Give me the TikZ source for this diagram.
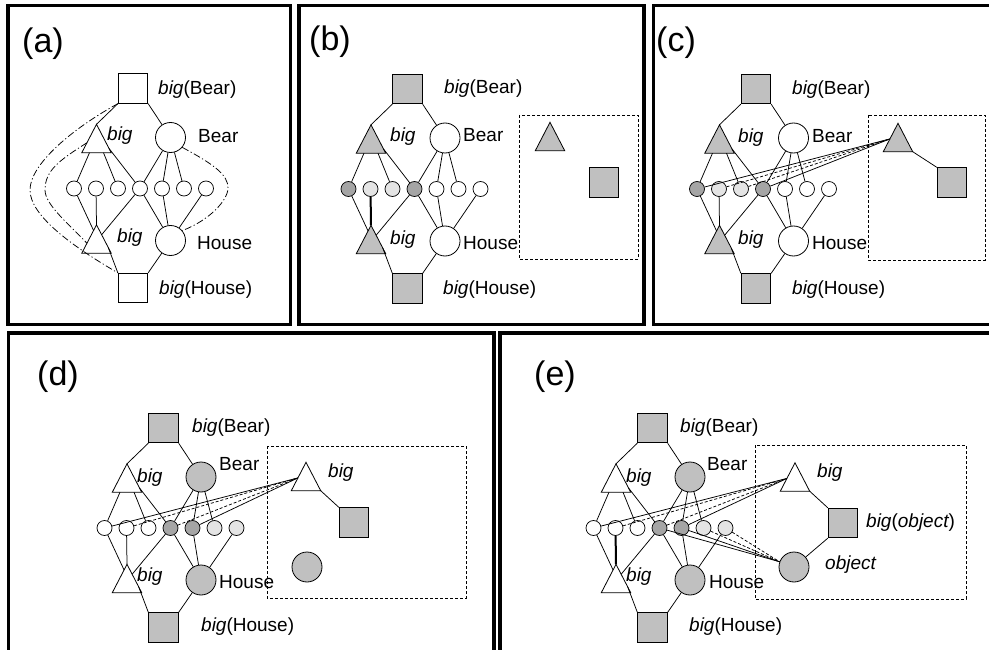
\documentclass[tikz,border=0pt]{standalone}
\usepackage{fontspec}
\setmainfont{Liberation Sans}
\usetikzlibrary{calc}
\definecolor{gfill}{RGB}{192,192,192}
\definecolor{dk}{RGB}{165,165,165}
\definecolor{lt}{RGB}{228,228,228}
\tikzset{
  sq/.style={draw, rectangle, minimum size=29.5pt, inner sep=0pt, line width=0.8pt},
  bigc/.style={draw, circle, minimum size=30pt, inner sep=0pt, line width=0.8pt},
  smc/.style={draw, circle, minimum size=15pt, inner sep=0pt, line width=0.7pt},
  tribox/.style={rectangle, minimum width=29pt, minimum height=28pt, inner sep=0pt},
  triline/.style={draw, line width=0.8pt},
  lbl/.style={anchor=west, inner sep=0pt, font=\fontsize{19}{22}\selectfont},
  tagtext/.style={inner sep=0pt, font=\fontsize{34}{40}\selectfont},
  panelframe/.style={line width=3.8pt},
  dbox/.style={dash pattern=on 3pt off 2pt, line width=0.7pt},
  conn/.style={line width=0.75pt},
  dconn/.style={line width=0.75pt, dash pattern=on 3pt off 2pt},
  dd/.style={line width=0.75pt, dash pattern=on 7pt off 2.5pt on 1.2pt off 2.5pt},
  sf/.style={fill=white}, cf/.style={fill=white}, tf/.style={fill=white},
  f1/.style={fill=white}, f2/.style={fill=white}, f3/.style={fill=white},
  f4/.style={fill=white}, f5/.style={fill=white}, f6/.style={fill=white},
  f7/.style={fill=white}, c2l/.style={}
}
\newcommand\net[3]{%
\begin{scope}[shift={(#2,#3)}]
  \node[sq, sf] (#1tsq) at (0,0) {};
  \node[sq, sf] (#1bsq) at (0,199.5) {};
  \node[tribox] (#1ut) at (-36.5,50) {};
  \node[tribox] (#1lt) at (-36.5,150.5) {};
  \node[bigc, cf] (#1bear) at (37.5,49) {};
  \node[bigc, cf] (#1house) at (37.5,152) {};
  \node[smc, f1] (#1c1) at (-59,100) {};
  \node[smc, f2] (#1c2) at (-37,100) {};
  \node[smc, f3] (#1c3) at (-15,100) {};
  \node[smc, f4] (#1c4) at (7,100) {};
  \node[smc, f5] (#1c5) at (29,100) {};
  \node[smc, f6] (#1c6) at (51,100) {};
  \node[smc, f7] (#1c7) at (73,100) {};
  \path[triline, tf] (#1ut.north) -- (#1ut.south east) -- (#1ut.south west) -- cycle;
  \path[triline, tf] (#1lt.north) -- (#1lt.south east) -- (#1lt.south west) -- cycle;
  \draw[conn] (#1tsq.south west) -- (#1ut.north);
  \draw[conn] (#1tsq.south east) -- (#1bear);
  \draw[conn] (#1bsq.north west) -- ($(#1lt.north)!0.8!(#1lt.south east)$);
  \draw[conn] (#1bsq.north east) -- (#1house);
  \draw[conn] ([xshift=-7pt]#1ut.south) -- (#1c1);
  \draw[conn] ([xshift=7pt]#1ut.south) -- (#1c3);
  \draw[conn] ($(#1ut.north)!0.85!(#1ut.south east)$) -- (#1c4);
  \draw[conn] (#1bear) -- (#1c4);
  \draw[conn] (#1bear) -- (#1c5);
  \draw[conn] (#1bear) -- (#1c6);
  \draw[conn] (#1c1) -- ($(#1lt.north)!0.2!(#1lt.south west)$);
  \draw[conn, c2l] (#1c2) -- (#1lt.north);
  \draw[conn] (#1c4) -- ($(#1lt.north)!0.35!(#1lt.south east)$);
  \draw[conn] (#1c4) -- (#1house);
  \draw[conn] (#1c5) -- (#1house);
  \draw[conn] (#1c7) -- (#1house);
\end{scope}}
\begin{document}
\begin{tikzpicture}[x=1pt, y=-1pt]
\useasboundingbox (0,0) rectangle (989,650);
\clip (0,0) rectangle (989,650);
\fill[white] (0,0) rectangle (989,650);

% frames
\draw[panelframe] (8,5.5) rectangle (290.5,324.5);
\draw[panelframe] (299,5.5) rectangle (644,324.5);
\draw[panelframe] (653.5,5.5) rectangle (1000,324.5);
\draw[panelframe] (8.5,333) rectangle (494,700);
\draw[panelframe] (500,333) rectangle (1000,700);

% panel tags
\node[tagtext] (ta) at (43,44) {(a)};
\node[tagtext] (tb) at (330,42) {(b)};
\node[tagtext] (tc) at (676,43) {(c)};
\node[tagtext] (td) at (58,377) {(d)};
\node[tagtext] (te) at (555,377) {(e)};

% ---------- (a)
\net{a}{133}{88.5}
\draw[dd] (atsq.south west) .. controls (70,130) and (30,165) .. (30,190)
          .. controls (30,215) and (70,245) .. (absq.north west);
\draw[dd] ($(aut.north)!0.65!(aut.south west)$) .. controls (60,160) and (45,170) .. (45,190)
          .. controls (45,205) and (70,225) .. ($(alt.north)!0.65!(alt.south west)$);
\draw[dd] (abear.-40) .. controls (215,165) and (228,175) .. (228,188)
          .. controls (228,200) and (210,220) .. (ahouse.40);
\node[lbl] (la1) at (158,90) {\itshape big\upshape(Bear)};
\node[lbl] (la2) at (107,136) {\itshape big};
\node[lbl] (la3) at (198,136) {Bear};
\node[lbl] (la4) at (117,238) {\itshape big};
\node[lbl] (la5) at (197,243) {House};
\node[lbl] (la6) at (159,290) {\itshape big\upshape(House)};

% ---------- (b)
\begin{scope}[sf/.style={fill=gfill}, tf/.style={fill=gfill},
  f1/.style={fill=dk}, f2/.style={fill=lt}, f3/.style={fill=lt}, f4/.style={fill=dk},
  c2l/.style={line width=2pt}]
\net{b}{407.5}{89}
\end{scope}
\draw[dbox] (519,115) rectangle (638,259);
\node[tribox] (bt) at (550,136.5) {};
\path[triline, fill=gfill] (bt.north) -- (bt.south east) -- (bt.south west) -- cycle;
\node[sq, fill=gfill] (bs) at (604,182.5) {};
\node[lbl] (lb1) at (444,89) {\itshape big\upshape(Bear)};
\node[lbl] (lb2) at (390,137) {\itshape big};
\node[lbl] (lb3) at (463,135) {Bear};
\node[lbl] (lb4) at (390,240) {\itshape big};
\node[lbl] (lb5) at (463,243) {House};
\node[lbl] (lb6) at (443,290) {\itshape big\upshape(House)};

% ---------- (c)
\begin{scope}[sf/.style={fill=gfill}, tf/.style={fill=gfill},
  f1/.style={fill=dk}, f2/.style={fill=lt}, f3/.style={fill=lt}, f4/.style={fill=dk}]
\net{c}{756}{89}
\end{scope}
\draw[dbox] (868,115) rectangle (985,260);
\node[tribox] (ct) at (898,137.5) {};
\path[triline, fill=gfill] (ct.north) -- (ct.south east) -- (ct.south west) -- cycle;
\node[sq, fill=gfill] (cs) at (952,182.5) {};
\draw[conn] (ct.south east) -- (cs.north west);
\coordinate (ck) at ($(ct.north)!0.55!(ct.south west)$);
\draw[conn] (cc1) -- (ck);
\draw[dconn] (cc2) -- (ck);
\draw[dconn] (cc3) -- (ck);
\draw[conn] (cc4) -- (ck);
\node[lbl] (lc1) at (792,90) {\itshape big\upshape(Bear)};
\node[lbl] (lc2) at (738,138) {\itshape big};
\node[lbl] (lc3) at (812,136) {Bear};
\node[lbl] (lc4) at (738,240) {\itshape big};
\node[lbl] (lc5) at (812,243) {House};
\node[lbl] (lc6) at (792,290) {\itshape big\upshape(House)};

% ---------- (d)
\begin{scope}[sf/.style={fill=gfill}, cf/.style={fill=gfill},
  f4/.style={fill=dk}, f5/.style={fill=dk}, f6/.style={fill=lt}, f7/.style={fill=lt}]
\net{d}{163.5}{428}
\end{scope}
\draw[dbox] (267,446) rectangle (466,598);
\node[tribox] (dt) at (306,476.5) {};
\path[triline, fill=white] (dt.north) -- (dt.south east) -- (dt.south west) -- cycle;
\node[sq, fill=gfill] (ds) at (354,522.5) {};
\node[bigc, fill=gfill] (dob) at (307,567) {};
\draw[conn] (dt.south east) -- (ds.north west);
\coordinate (dk1) at ($(dt.north)!0.55!(dt.south west)$);
\draw[conn] (dc1) -- (dk1);
\draw[dconn] (dc2) -- (dk1);
\draw[dconn] (dc4) -- (dk1);
\draw[conn] (dc5) -- (dk1);
\node[lbl] (ld1) at (192,428) {\itshape big\upshape(Bear)};
\node[lbl] (ld2) at (137,478) {\itshape big};
\node[lbl] (ld3) at (219,464) {Bear};
\node[lbl] (ld4) at (137,577) {\itshape big};
\node[lbl] (ld5) at (219,582) {House};
\node[lbl] (ld6) at (201,627) {\itshape big\upshape(House)};
\node[lbl] (ld7) at (328,473) {\itshape big};

% ---------- (e)
\begin{scope}[sf/.style={fill=gfill}, cf/.style={fill=gfill},
  f4/.style={fill=dk}, f5/.style={fill=dk}, f6/.style={fill=lt}, f7/.style={fill=lt},
  c2l/.style={line width=2pt}]
\net{e}{652.5}{428}
\end{scope}
\draw[dbox] (755,445) rectangle (966,599);
\node[tribox] (et) at (795,477) {};
\path[triline, fill=white] (et.north) -- (et.south east) -- (et.south west) -- cycle;
\node[sq, fill=gfill] (es) at (843,523) {};
\node[bigc, fill=gfill] (eob) at (794,567) {};
\draw[conn] (et.south east) -- (es.north west);
\draw[conn] (es.south west) -- (eob);
\coordinate (ek1) at ($(et.north)!0.55!(et.south west)$);
\coordinate (ek2) at (eob.160);
\draw[conn] (ec1) -- (ek1);
\draw[dconn] (ec2) -- (ek1);
\draw[dconn] (ec4) -- (ek1);
\draw[conn] (ec5) -- (ek1);
\draw[conn] (ec4) -- (ek2);
\draw[conn] (ec5) -- (ek2);
\draw[dconn] (ec6) -- (ek2);
\draw[dconn] (ec7) -- (ek2);
\node[lbl] (le1) at (680,428) {\itshape big\upshape(Bear)};
\node[lbl] (le2) at (626,478) {\itshape big};
\node[lbl] (le3) at (707,464) {Bear};
\node[lbl] (le4) at (626,577) {\itshape big};
\node[lbl] (le5) at (709,582) {House};
\node[lbl] (le6) at (689,627) {\itshape big\upshape(House)};
\node[lbl] (le7) at (817,473) {\itshape big};
\node[lbl] (le8) at (866,523) {\itshape big\upshape(\itshape object\upshape)};
\node[lbl] (le9) at (825,565) {\itshape object};
\end{tikzpicture}
\end{document}
